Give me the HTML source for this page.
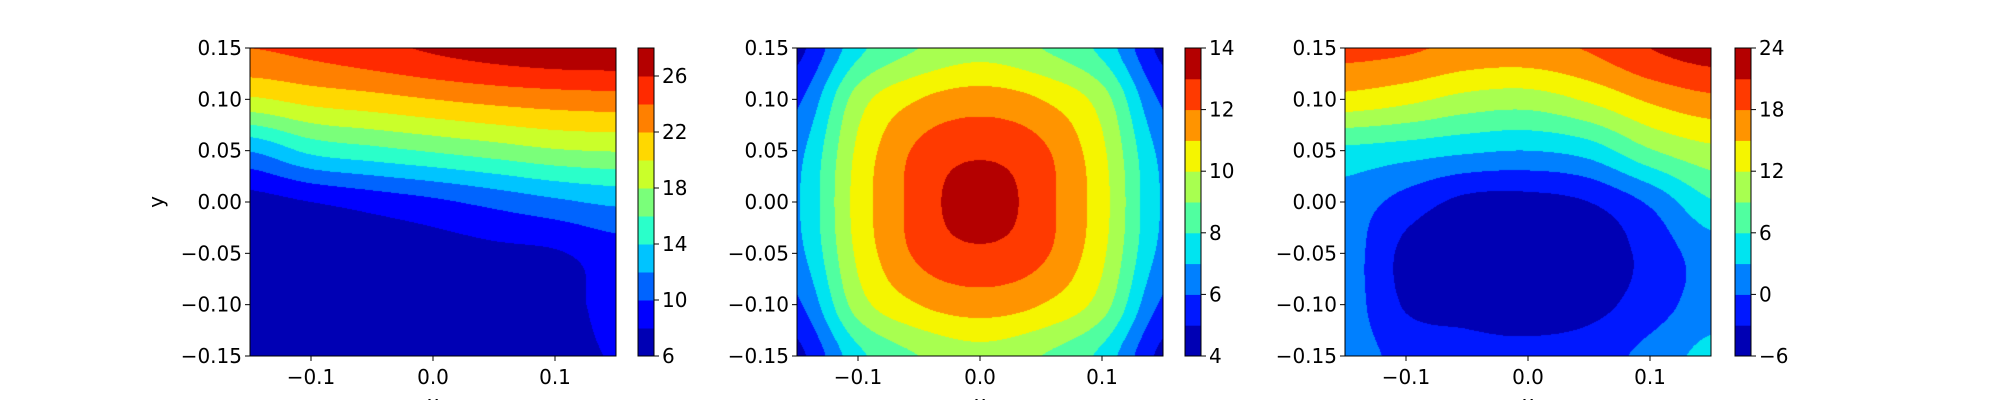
<!DOCTYPE html>
<html><head><meta charset="utf-8"><style>
html,body{margin:0;padding:0;background:#fff;width:2000px;height:400px;overflow:hidden}
#wrap{position:relative;width:2000px;height:400px}
canvas{position:absolute}
svg{position:absolute;left:0;top:0}
text{font-family:"DejaVu Sans","Liberation Sans",sans-serif;font-size:20px;fill:#000}
</style></head><body>
<div id="wrap">
<canvas id="c0"></canvas>
<canvas id="c1"></canvas>
<canvas id="c2"></canvas>
<svg id="ov" width="2000" height="400"></svg>
</div>
<script>
// grid coordinates
const gridX = [-0.15,-0.10,-0.05,0,0.05,0.10,0.15];
const gridY = [0.15,0.10,0.05,0,-0.05,-0.10,-0.15];
// field values (rows = gridY, cols = gridX)
const field1 = [
 [24,24.6,25.4,26.3,27,27.5,27.6],
 [19.7,20.7,21.3,22,22.6,23,23.2],
 [12.1,14.5,15.4,16.2,17,17.8,18.1],
 [7.2,8,8.8,9.6,10.6,11.6,12.4],
 [6.5,6.6,6.8,7.1,7.5,7.8,9],
 [6.3,6.4,6.5,6.6,6.9,7.3,8.6],
 [6.2,6.3,6.3,6.4,6.6,7.4,8.1]];
const field2 = [
 [4.7,7.7,9.0,9.6,9.0,7.7,4.7],
 [5.8,9.5,11.0,11.5,11.0,9.5,5.8],
 [6.7,10.2,12.2,12.8,12.2,10.2,6.7],
 [6.9,10.4,12.4,13.6,12.4,10.4,6.9],
 [6.7,10.2,12.2,12.8,12.2,10.2,6.7],
 [5.8,9.5,11.0,11.5,11.0,9.5,5.8],
 [4.7,7.7,9.0,9.6,9.0,7.7,4.7]];
const field3 = [
 [19,18.5,17.2,17,18.3,21,22.5],
 [14,12.8,11,10.5,12.5,15.5,17.3],
 [5.3,4.5,3.5,3,4.3,8.7,11.2],
 [1.8,-1.2,-3.8,-4,-3,0.5,5.7],
 [1.5,-3.8,-5,-5,-5,-2,1.5],
 [1.5,-3.3,-4,-4.5,-4,-1.5,1.5],
 [1.5,-1,-2,-2.2,-1.5,1,4]];
// contour levels
const levels1 = [6,8,10,12,14,16,18,20,22,24,26,28];
const levels2 = [4,5,6,7,8,9,10,11,12,13,14];
const levels3 = [-6,-3,0,3,6,9,12,15,18,21,24];
const cbTicks1 = [6,10,14,18,22,26];
const cbTicks2 = [4,6,8,10,12,14];
const cbTicks3 = [-6,0,6,12,18,24];
const axisTicks = [-0.1,0.0,0.1];
const yTicks = [0.15,0.10,0.05,0.00,-0.05,-0.10,-0.15];

const colors11 = ['#0000b4','#0000ff','#0064ff','#00c4ff','#2affca','#7aff7a','#caff2a','#ffd800','#ff8000','#ff2a00','#b40000'];
const colors10 = ['#0000b4','#0018ff','#0080ff','#00e4f0','#50ffa0','#a8ff50','#f5f500','#ff9400','#ff3a00','#b40000'];

const PW=366, PH=308, TOP=48;
const panels = [
 {id:'c0', left:250, cb:638, field:field1, levels:levels1, colors:colors11, cbt:cbTicks1, ylab:true},
 {id:'c1', left:797, cb:1185, field:field2, levels:levels2, colors:colors10, cbt:cbTicks2},
 {id:'c2', left:1345, cb:1735, field:field3, levels:levels3, colors:colors10, cbt:cbTicks3}
];
function hex(c){return [parseInt(c.slice(1,3),16),parseInt(c.slice(3,5),16),parseInt(c.slice(5,7),16)];}
function cr(p0,p1,p2,p3,t){
  return 0.5*((2*p1)+(-p0+p2)*t+(2*p0-5*p1+4*p2-p3)*t*t+(-p0+3*p1-3*p2+p3)*t*t*t);
}
function sample(f,x,y){
  const n=gridX.length-1;
  let fx=(x-gridX[0])/(gridX[n]-gridX[0])*n, fy=(gridY[0]-y)/(gridY[0]-gridY[n])*n;
  let i=Math.min(n-1,Math.max(0,Math.floor(fx))), j=Math.min(n-1,Math.max(0,Math.floor(fy)));
  let tx=fx-i, ty=fy-j;
  const g=(r,c)=>{
    r=Math.max(0,Math.min(n,r));c=Math.max(0,Math.min(n,c));return f[r][c];
  };
  const rows=[];
  for(let k=-1;k<=2;k++) rows.push(cr(g(j+k,i-1),g(j+k,i),g(j+k,i+1),g(j+k,i+2),tx));
  return cr(rows[0],rows[1],rows[2],rows[3],ty);
}
function band(levels,v){
  for(let k=levels.length-2;k>=0;k--) if(v>=levels[k]) return k;
  return 0;
}
const xs=x=>(x+0.15)/0.3*PW, ys=y=>(0.15-y)/0.3*PH;
const NS='http://www.w3.org/2000/svg';
const ov=document.getElementById('ov');
function el(tag,attrs,txt){const e=document.createElementNS(NS,tag);for(const k in attrs)e.setAttribute(k,attrs[k]);if(txt!==undefined)e.textContent=txt;ov.appendChild(e);return e;}

panels.forEach((p,pi)=>{
  const cv=document.getElementById(p.id);
  cv.width=PW;cv.height=PH;cv.style.left=p.left+'px';cv.style.top=TOP+'px';
  const ctx=cv.getContext('2d');const img=ctx.createImageData(PW,PH);
  const rgb=p.colors.map(hex);
  for(let py=0;py<PH;py++)for(let px=0;px<PW;px++){
    const x=-0.15+(px+0.5)/PW*0.3, y=0.15-(py+0.5)/PH*0.3;
    const c=rgb[band(p.levels,sample(p.field,x,y))];
    const o=(py*PW+px)*4;img.data[o]=c[0];img.data[o+1]=c[1];img.data[o+2]=c[2];img.data[o+3]=255;
  }
  ctx.putImageData(img,0,0);
  const fr=el('rect',{x:p.left,y:TOP,width:PW,height:PH,fill:'none',stroke:'#000','stroke-width':1});
  
  
  yTicks.forEach(t=>{
    const yy=TOP+ys(t);
    el('line',{x1:p.left-5,x2:p.left,y1:yy,y2:yy,stroke:'#000'});
    const tx=el('text',{x:p.left-8,y:yy+7,'text-anchor':'end'},(t<0?'\u2212':'')+Math.abs(t).toFixed(2));
    
    
  });
  axisTicks.forEach(t=>{
    const xx=p.left+xs(t);
    el('line',{x1:xx,x2:xx,y1:TOP+PH,y2:TOP+PH+5,stroke:'#000'});
    const tx=el('text',{x:xx,y:384,'text-anchor':'middle'},(t<0?'\u2212':'')+Math.abs(t).toFixed(1));
    
    
  });
  const xl=el('text',{x:p.left+PW/2,y:410,'text-anchor':'middle'},'x');
  
  
  if(p.ylab){
    const yl=el('text',{x:0,y:0,'text-anchor':'middle',transform:'translate(163,202) rotate(-90)'},'y');
    
    
  }
  const L=p.levels, n=L.length-1, cbW=16;
  const cs=v=>TOP+PH-(v-L[0])/(L[n]-L[0])*PH;
  for(let k=0;k<n;k++){
    const r=el('rect',{x:p.cb,y:cs(L[k+1]),width:cbW,height:cs(L[k])-cs(L[k+1])+0.5,fill:p.colors[k]});
    
    
  }
  el('rect',{x:p.cb,y:TOP,width:cbW,height:PH,fill:'none',stroke:'#000'});
  p.cbt.forEach(t=>{
    const yy=cs(t);
    el('line',{x1:p.cb+cbW,x2:p.cb+cbW+5,y1:yy,y2:yy,stroke:'#000'});
    const tx=el('text',{x:p.cb+cbW+8,y:yy+7},(t<0?'\u2212':'')+Math.abs(t));
    
    
  });
});
</script>
</body></html>
